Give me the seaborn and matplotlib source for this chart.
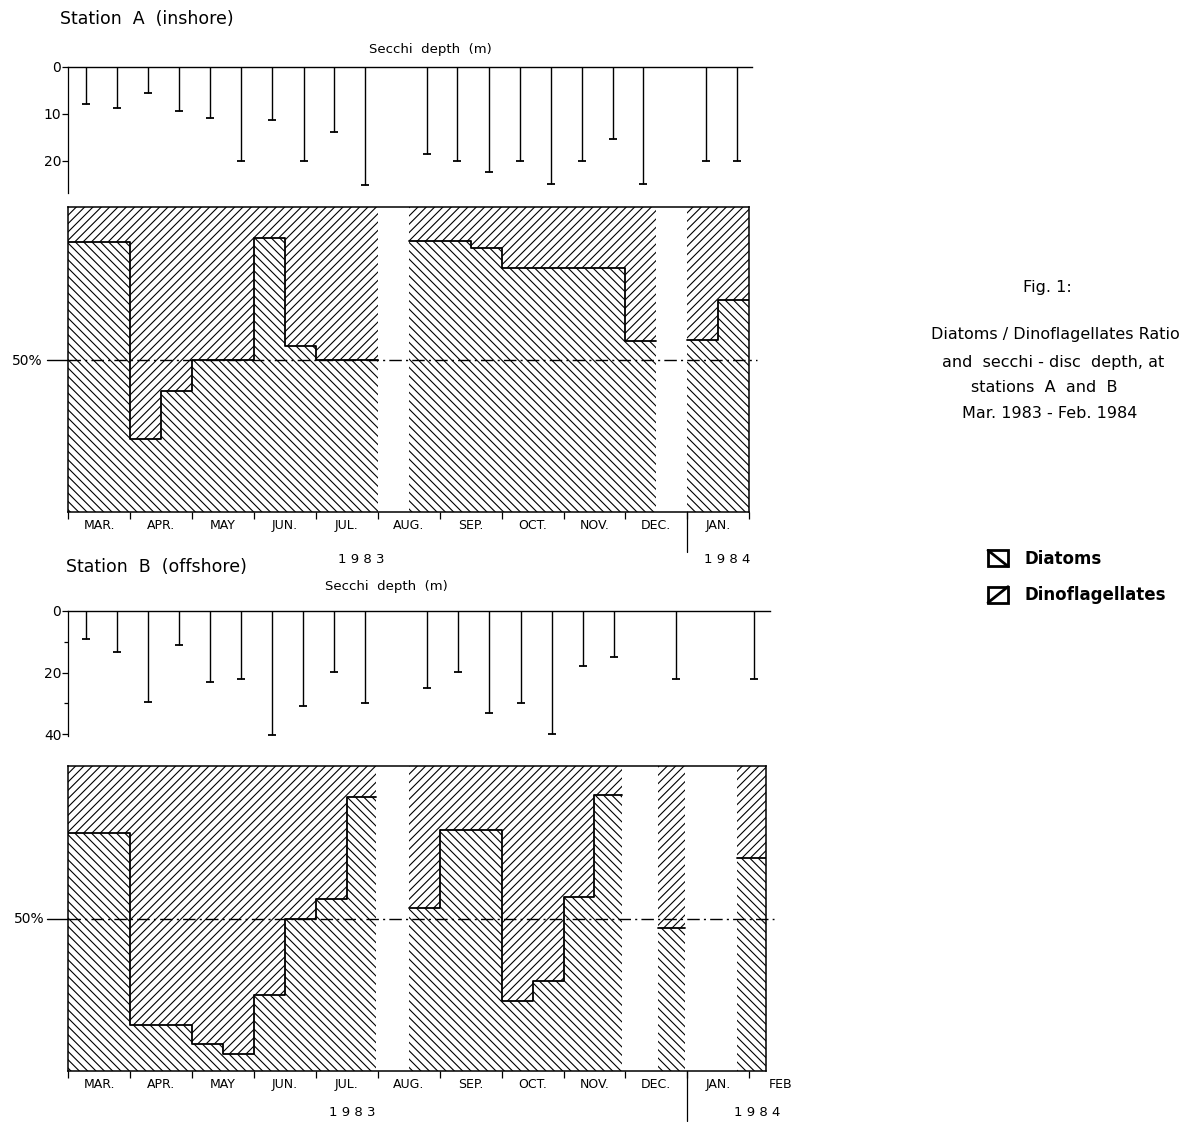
import numpy as np
import matplotlib
matplotlib.use("Agg")
import matplotlib.pyplot as plt
import seaborn as sns
from matplotlib.patches import Patch, Rectangle
from matplotlib.lines import Line2D
from matplotlib.legend_handler import HandlerBase

# ---------------- data ----------------
months_A = ["MAR.", "APR.", "MAY", "JUN.", "JUL.", "AUG.", "SEP.", "OCT.", "NOV.", "DEC.", "JAN."]
months_B = ["MAR.", "APR.", "MAY", "JUN.", "JUL.", "AUG.", "SEP.", "OCT.", "NOV.", "DEC.", "JAN.", "FEB"]

# sampling time in months since 1 March 1983, Secchi depth in m
secchi_A_time = [0.29, 0.79, 1.29, 1.79, 2.29, 2.79, 3.29, 3.8, 4.3, 4.8,
                 5.79, 6.28, 6.79, 7.29, 7.8, 8.3, 8.8, 9.29, 10.3, 10.8]
secchi_A_depth = [8, 8.7, 5.7, 9.4, 11, 20, 11.3, 20, 14, 25.2,
                  18.7, 20, 22.5, 20, 25, 20, 15.5, 25, 20, 20]

secchi_B_time = [0.28, 0.78, 1.28, 1.79, 2.29, 2.79, 3.29, 3.79, 4.3, 4.8,
                 5.79, 6.3, 6.8, 7.31, 7.81, 8.31, 8.81, 9.82, 11.07]
secchi_B_depth = [9.2, 13.3, 29.7, 10.9, 23, 22.2, 40.2, 30.8, 19.9, 29.9,
                  24.9, 19.9, 33, 30, 40, 18, 15.1, 22.2, 22.2]

# diatom share (%) per sampling interval (rest = dinoflagellates)
ratio_A_start = [0, 1, 1.5, 2, 3, 3.5, 4, 5.5, 6.5, 7, 9, 10, 10.5]
ratio_A_end = [1, 1.5, 2, 3, 3.5, 4, 5, 6.5, 7, 9, 9.5, 10.5, 11.0]
ratio_A_diatom = [88.5, 24, 39.5, 50, 90, 54.5, 50, 89, 86.5, 80, 56, 56.5, 69.5]

ratio_B_start = [0, 1, 2, 2.5, 3, 3.5, 4, 4.5, 5.5, 6, 7, 7.5, 8, 8.5, 9.53, 10.8]
ratio_B_end = [1, 2, 2.5, 3, 3.5, 4, 4.5, 4.97, 6, 7, 7.5, 8, 8.5, 8.95, 9.96, 11.27]
ratio_B_diatom = [78, 15, 9, 5.5, 25, 50, 56.5, 90, 53.5, 79, 23, 29.5, 57, 90.5, 47, 70]

# ---------------- style ----------------
sns.set_theme(style="ticks")
plt.rcParams["font.family"] = ["DejaVu Sans"]
plt.rcParams["axes.edgecolor"] = "black"
plt.rcParams["xtick.color"] = "black"
plt.rcParams["ytick.color"] = "black"
plt.rcParams["text.color"] = "black"
plt.rcParams["axes.labelcolor"] = "black"
plt.rcParams["axes.linewidth"] = 1.0
plt.rcParams["hatch.linewidth"] = 0.8
plt.rcParams["hatch.color"] = "black"

W, H = 1201, 1122
fig = plt.figure(figsize=(W / 100, H / 100), dpi=100)
fig.patch.set_facecolor("white")
MW = 61.9  # pixels per month
X0 = 68.3

HATCH_DIA = "\\" * 4
HATCH_DINO = "/" * 4


def px_axes(l, t, r, b):
    ax = fig.add_axes([l / W, 1 - b / H, (r - l) / W, (b - t) / H])
    ax.set_facecolor("none")
    return ax


def ftext(x, y, s, **kw):
    fig.text(x / W, 1 - y / H, s, **kw)


def secchi_panel(ax, t, d, xmax, ymax, ticks, minor):
    ax.vlines(t, 0, d, color="black", lw=1.0)
    ax.plot(t, d, ls="none", marker="_", ms=6, mew=1.3, color="black")
    ax.set_xlim(0, xmax)
    ax.set_ylim(ymax, 0)
    ax.set_xticks([])
    ax.set_yticks(ticks)
    ax.set_yticks(minor, minor=True)
    ax.tick_params(axis="y", which="major", length=4, width=0.9, labelsize=10, pad=1)
    ax.tick_params(axis="y", which="minor", length=3, width=0.9)
    for s in ["right", "bottom"]:
        ax.spines[s].set_visible(False)
    ax.spines["top"].set_linewidth(1.0)
    ax.spines["left"].set_linewidth(0.9)
    ax.grid(False)


def ratio_panel(ax, starts, ends, pct, xmax, labels, divider_len):
    for s, e, p in zip(starts, ends, pct):
        ax.fill_between([s, e], 0, p, facecolor="white", edgecolor="black",
                        hatch=HATCH_DIA, linewidth=0, zorder=1)
        ax.fill_between([s, e], p, 100, facecolor="white", edgecolor="black",
                        hatch=HATCH_DINO, linewidth=0, zorder=1)
    runs, cur = [], [0]
    for i in range(1, len(starts)):
        if abs(starts[i] - ends[i - 1]) < 1e-6:
            cur.append(i)
        else:
            runs.append(cur)
            cur = [i]
    runs.append(cur)
    for run in runs:
        xs, ys = [], []
        for i in run:
            xs += [starts[i], ends[i]]
            ys += [pct[i], pct[i]]
        sns.lineplot(x=xs, y=ys, sort=False, estimator=None, color="black",
                     lw=1.3, ax=ax, zorder=3)
    # 50 % reference line
    ax.plot([0, xmax + 0.13], [50, 50], color="black", lw=1.0,
            ls=(0, (9, 3, 1.5, 3)), zorder=4, clip_on=False)
    ax.plot([-0.35, 0], [50, 50], color="black", lw=1.0, zorder=4, clip_on=False)
    ax.set_xlim(0, xmax)
    ax.set_ylim(0, 100)
    ax.set_yticks([])
    nmaj = int(np.floor(xmax + 1e-6))
    ax.set_xticks(range(0, nmaj + 1))
    ax.set_xticklabels([""] * (nmaj + 1))
    centers = [i + 0.5 for i in range(len(labels)) if i + 0.5 < xmax]
    ax.set_xticks(centers, minor=True)
    ax.set_xticklabels(labels[:len(centers)], minor=True)
    ax.tick_params(axis="x", which="major", length=5, width=0.9, direction="out")
    ax.tick_params(axis="x", which="minor", length=0, labelsize=9, pad=5)
    for s in ax.spines.values():
        s.set_visible(True)
        s.set_linewidth(1.1)
    # year divider
    ax.plot([10, 10], [0, -divider_len], color="black", lw=0.9,
            transform=ax.get_xaxis_transform(), clip_on=False)
    ax.grid(False)
    return ax


class BoxDiagonal(HandlerBase):
    """Legend key: a square with one diagonal, like the original symbols."""

    def __init__(self, direction):
        super().__init__()
        self.direction = direction

    def create_artists(self, legend, orig_handle, xdescent, ydescent, width,
                       height, fontsize, trans):
        x0, y0 = -xdescent, -ydescent
        rect = Rectangle((x0, y0), width, height, facecolor="white",
                         edgecolor="black", lw=2.0, transform=trans)
        if self.direction == "\\":
            line = Line2D([x0, x0 + width], [y0 + height, y0], color="black",
                          lw=2.0, transform=trans)
        else:
            line = Line2D([x0, x0 + width], [y0, y0 + height], color="black",
                          lw=2.0, transform=trans)
        return [rect, line]


# ---------------- Station A ----------------
axA1 = px_axes(X0, 66.7, 752, 193)
secchi_panel(axA1, secchi_A_time, secchi_A_depth, (752 - X0) / MW, 26.9, [0, 10, 20], [])

axA2 = px_axes(X0, 207.3, 749.3, 511.7)
ratio_panel(axA2, ratio_A_start, ratio_A_end, ratio_A_diatom, (749.3 - X0) / MW,
            months_A, 40 / 304)

# ---------------- Station B ----------------
axB1 = px_axes(X0, 611, 770, 736)
secchi_panel(axB1, secchi_B_time, secchi_B_depth, (770 - X0) / MW, 40.6, [0, 20, 40], [10, 30])

axB2 = px_axes(X0, 766, 766, 1071)
ratio_panel(axB2, ratio_B_start, ratio_B_end, ratio_B_diatom, (766 - X0) / MW,
            months_B, 50 / 305)
axB2.text(11.5, -0.023, months_B[-1], transform=axB2.get_xaxis_transform(),
          ha="center", va="top", fontsize=9, clip_on=False)

# ---------------- texts ----------------
ftext(60, 19, "Station  A  (inshore)", fontsize=12.5, ha="left", va="center")
ftext(430, 50, "Secchi  depth  (m)", fontsize=9.5, ha="center", va="center")
ftext(43, 361, "50%", fontsize=10, ha="right", va="center")
ftext(361, 560, "1 9 8 3", fontsize=9.5, ha="center", va="center")
ftext(727, 560, "1 9 8 4", fontsize=9.5, ha="center", va="center")

ftext(66, 567, "Station  B  (offshore)", fontsize=12.5, ha="left", va="center")
ftext(386, 586, "Secchi  depth  (m)", fontsize=9.5, ha="center", va="center")
ftext(45, 919, "50%", fontsize=10, ha="right", va="center")
ftext(352, 1112, "1 9 8 3", fontsize=9.5, ha="center", va="center")
ftext(757, 1112, "1 9 8 4", fontsize=9.5, ha="center", va="center")

ftext(1047, 287, "Fig. 1:", fontsize=11.5, ha="center", va="center")
ftext(1055, 335, "Diatoms / Dinoflagellates Ratio", fontsize=11.5, ha="center", va="center")
ftext(1053, 362, "and  secchi - disc  depth, at", fontsize=11.5, ha="center", va="center")
ftext(1044, 388, "stations  A  and  B", fontsize=11.5, ha="center", va="center")
ftext(1050, 414, "Mar. 1983 - Feb. 1984", fontsize=11.5, ha="center", va="center")

h_dia = Patch(facecolor="white", edgecolor="black", hatch="\\")
h_dino = Patch(facecolor="white", edgecolor="black", hatch="/")
fig.legend([h_dia, h_dino], ["Diatoms", "Dinoflagellates"], loc="upper left",
           bbox_to_anchor=(988 / W, 1 - 550 / H), frameon=False,
           prop={"weight": "bold", "size": 12}, handlelength=1.2, handleheight=1.1,
           handletextpad=1.0, labelspacing=1.1, borderpad=0, borderaxespad=0,
           handler_map={h_dia: BoxDiagonal("\\"), h_dino: BoxDiagonal("/")})

fig.savefig("out.png", dpi=100, facecolor="white")
